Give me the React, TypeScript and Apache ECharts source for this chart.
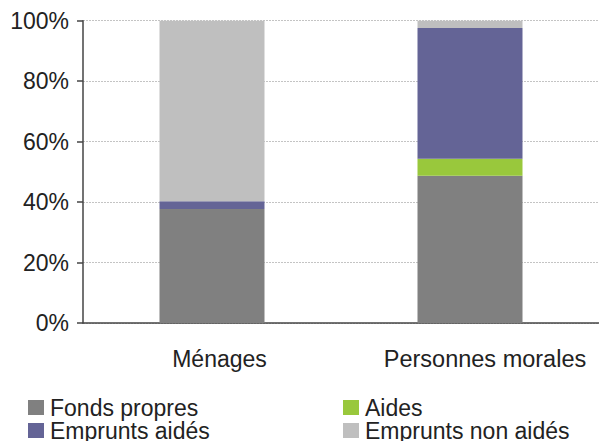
import React, { useEffect, useRef } from "react";
import * as echarts from "echarts";

const categories = ["Ménages", "Personnes morales"];
const seriesNames = ["Fonds propres", "Aides", "Emprunts aidés", "Emprunts non aidés"];
const fondsPropres = [37.7, 48.7];
const aides = [0, 5.6];
const empruntsAides = [2.6, 43.3];
const empruntsNonAides = [59.7, 2.4];
const yTicks = [0, 20, 40, 60, 80, 100];
const colors = ["#808080", "#99c83c", "#646496", "#bfbfbf"];

const FONT = "'Liberation Sans', Arial, Helvetica, sans-serif";

export default function App() {
  const ref = useRef<HTMLDivElement>(null);
  useEffect(() => {
    if (!ref.current) return;
    const chart = echarts.init(ref.current, undefined, { renderer: "svg" });
    const values = [fondsPropres, aides, empruntsAides, empruntsNonAides];
    const legendCommon = {
      orient: "vertical",
      top: 396,
      height: 80,
      padding: 0,
      itemGap: 0,
      itemWidth: 16,
      itemHeight: 15,
      icon: "rect",
      textStyle: { fontSize: 23, color: "#222", fontFamily: FONT, lineHeight: 22, padding: [0, 0, 0, 1] },
    };
    chart.setOption({
      animation: false,
      textStyle: { fontFamily: FONT },
      grid: { left: 83, top: 20.7, width: 526, height: 302.3 },
      legend: [
        { ...legendCommon, left: 28, data: ["Fonds propres", "Emprunts aidés"] },
        { ...legendCommon, left: 343, data: ["Aides", "Emprunts non aidés"] },
      ],
      xAxis: {
        type: "category",
        data: categories,
        axisLine: { show: true, lineStyle: { color: "#444", width: 1.5 } },
        axisTick: { show: false },
        axisLabel: {
          interval: 0,
          hideOverlap: false,
          fontSize: 23,
          color: "#222",
          fontFamily: FONT,
          margin: 24,
          formatter: (v: string, i: number) => `{c${i}|${v}}`,
          rich: {
            c0: { fontSize: 23, color: "#222", fontFamily: FONT, padding: [0, 0, 0, 15] },
            c1: { fontSize: 23.5, color: "#222", fontFamily: FONT, padding: [0, 0, 0, 30] },
          },
        },
      },
      yAxis: {
        type: "value",
        min: yTicks[0],
        max: yTicks[yTicks.length - 1],
        interval: yTicks[1] - yTicks[0],
        axisLine: { show: true, lineStyle: { color: "#444", width: 1.5 } },
        axisTick: { show: true, length: 6, lineStyle: { color: "#444", width: 1.5 } },
        axisLabel: {
          formatter: "{value}%",
          fontSize: 23,
          color: "#222",
          fontFamily: FONT,
          margin: 14,
        },
        splitLine: { show: true, lineStyle: { color: "#c4c4c4", type: [2, 1], width: 1 } },
      },
      series: seriesNames.map((name, i) => ({
        name,
        type: "bar",
        stack: "total",
        barWidth: 105,
        data: values[i],
        itemStyle: { color: colors[i] },
      })),
    });
    return () => chart.dispose();
  }, []);
  return (
    <div
      ref={ref}
      style={{ position: "fixed", left: 0, top: 0, width: 599, height: 441, background: "#fff" }}
    />
  );
}
